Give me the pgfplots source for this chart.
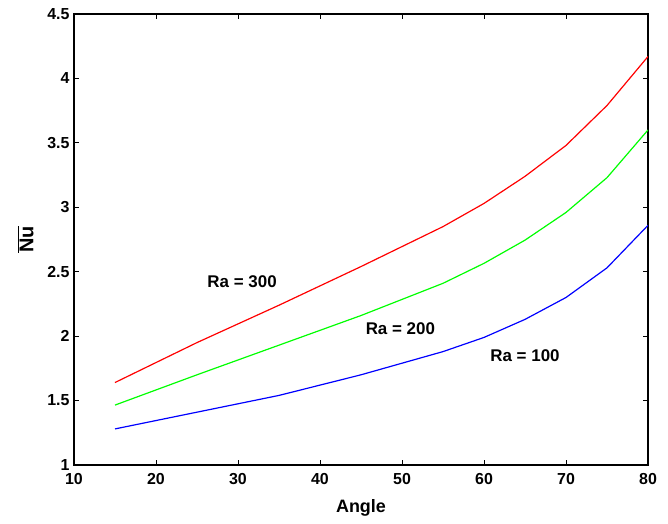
\documentclass[border=0pt]{standalone}
\usepackage{pgfplots}
\pgfplotsset{compat=1.18}
\usepackage{fontspec}
\setmainfont{Liberation Sans}
\begin{document}
\begin{tikzpicture}
\begin{axis}[
  scale only axis, width=574bp, height=451bp,
  xmin=10, xmax=80, ymin=1, ymax=4.5,
  xtick={10,20,...,80}, ytick={1,1.5,...,4.5},
  tick align=inside, major tick length=5bp,
  axis line style={line width=1.4pt}, tick style={black, line width=0.9pt},
  ticklabel style={font=\fontsize{16}{16}\selectfont\bfseries},
  /pgf/number format/assume math mode=true,
  yticklabel style={/pgf/number format/fixed, xshift=-1bp},
  xticklabel style={yshift=-5bp},
  xlabel={\fontsize{18}{18}\selectfont\bfseries Angle},
  ylabel={\fontsize{20}{20}\selectfont\bfseries $\overline{\mbox{Nu}}$},
  xlabel style={yshift=-8bp},
  ylabel style={yshift=7bp},
  every axis plot/.append style={line width=1.2pt},
]
\addplot[red] coordinates {(15,1.64)(25,1.95)(35,2.24)(45,2.54)(55,2.85)(60,3.03)(65,3.24)(70,3.48)(75,3.79)(80,4.17)};
\addplot[green] coordinates {(15,1.465)(25,1.70)(35,1.93)(45,2.16)(55,2.41)(60,2.565)(65,2.745)(70,2.96)(75,3.23)(80,3.60)};
\addplot[blue] coordinates {(15,1.28)(25,1.41)(35,1.54)(45,1.70)(55,1.88)(60,1.99)(65,2.13)(70,2.30)(75,2.53)(80,2.86)};
\node[font=\fontsize{17}{17}\selectfont\bfseries] at (axis cs:30.5,2.42) {Ra = 300};
\node[font=\fontsize{17}{17}\selectfont\bfseries] at (axis cs:49.8,2.06) {Ra = 200};
\node[font=\fontsize{17}{17}\selectfont\bfseries] at (axis cs:65,1.85) {Ra = 100};
\end{axis}
\useasboundingbox ([shift={(-74bp,-59bp)}]current axis.south west) rectangle ([shift={(20bp,14bp)}]current axis.north east);
\end{tikzpicture}
\end{document}
